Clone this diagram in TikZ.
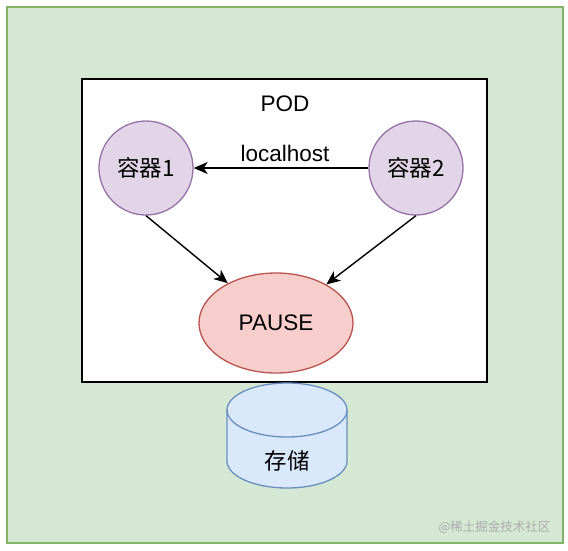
\documentclass[tikz,border=0pt]{standalone}
\usepackage{fontspec}
\setmainfont{Liberation Sans}
\newfontfamily\cjk{Noto Sans CJK SC}
\usepackage{tikz}
\usetikzlibrary{arrows.meta,shapes.geometric}
\definecolor{outerFill}{HTML}{D5E8D4}
\definecolor{outerLine}{HTML}{82B366}
\definecolor{boxFill}{HTML}{E1D5E7}
\definecolor{boxLine}{HTML}{9673A6}
\definecolor{pauseFill}{HTML}{F8CECC}
\definecolor{pauseLine}{HTML}{B85450}
\definecolor{diskFill}{HTML}{DAE8FC}
\definecolor{diskLine}{HTML}{6C8EBF}
\definecolor{mark}{HTML}{ABABAB}
\tikzset{
  lab/.style={font=\fontsize{22.5}{26}\selectfont},
  container/.style={circle, minimum size=94pt, inner sep=0pt, fill=boxFill, draw=boxLine, line width=1.3pt, lab},
  pauseNode/.style={ellipse, minimum width=154pt, minimum height=100pt, inner sep=0pt, fill=pauseFill, draw=pauseLine, line width=1.3pt, lab},
  link/.style={line width=1.4pt, -{Stealth[length=14pt, width=12pt, inset=4pt]}},
  diskLine/.style={fill=diskFill, draw=diskLine, line width=1.3pt}
}
\begin{document}
\begin{tikzpicture}[x=1pt, y=-1pt]
\useasboundingbox (0,0) rectangle (568,550);
% outer area
\draw[fill=outerFill, draw=outerLine, line width=2pt] (7,7) rectangle (563,543);
% pod box
\draw[fill=white, draw=black, line width=1.8pt] (82,79) rectangle (487,382);
\node[lab] (pod) at (285,104) {POD};

% containers and pause
\node[container] (c1) at (146,168) {\cjk 容器1};
\node[container] (c2) at (416,168) {\cjk 容器2};
\node[pauseNode] (pause) at (276,323) {PAUSE};
\draw[link] (c2) -- node[lab, above=2pt, xshift=4pt] (lh) {localhost} (c1);
\draw[link] (c1.south) -- (pause);
\draw[link] (c2.south) -- (pause);

% storage
\coordinate (dTop) at (227,410);
\coordinate (dBot) at (227,461);
\draw[diskLine] (dTop) -- (dBot) arc[start angle=180, end angle=360, x radius=60pt, y radius=27pt]
  -- (347,410) arc[start angle=0, end angle=180, x radius=60pt, y radius=27pt] -- cycle;
\draw[diskLine, fill=none] (dTop) arc[start angle=180, end angle=360, x radius=60pt, y radius=27pt];
\node[lab] (disk) at (287,461) {\cjk 存储};

% watermark
\node[anchor=east, text=mark, font=\cjk\fontsize{12.5}{14}\selectfont] (wm) at (554,527) {@稀土掘金技术社区};
\end{tikzpicture}
\end{document}
